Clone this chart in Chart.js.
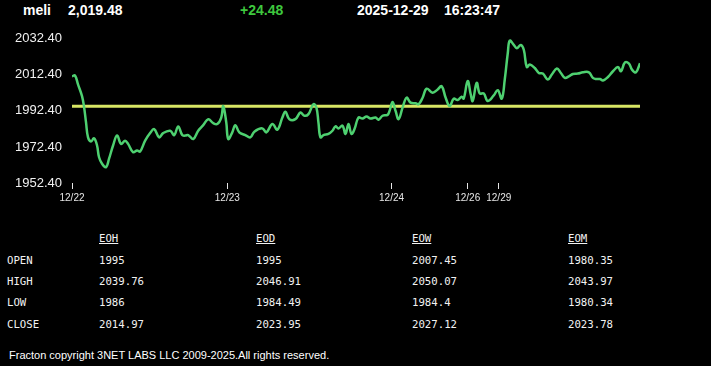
<!DOCTYPE html>
<html>
<head>
<meta charset="utf-8">
<script src="https://cdn.jsdelivr.net/npm/chart.js@4.4.1/dist/chart.umd.min.js"></script>
<style>
  body { margin: 0; background: #000; width: 711px; height: 366px; overflow: hidden; position: relative; }
  .hd { position: absolute; top: 2px; font: bold 14px "Liberation Sans", Arial, sans-serif; color: #fff; line-height: 17px; z-index: 2; }
  #chg { color: #3ec83e; }
  #chart { position: absolute; left: 0; top: 21px; }
  .cell { position: absolute; font: 10.7px "DejaVu Sans Mono", "Liberation Mono", monospace; color: #f2f2f2; line-height: 13px; }
  .colhead { text-decoration: underline; }
  #foot { position: absolute; left: 9px; top: 349px; font: 11px "Liberation Sans", Arial, sans-serif; color: #fff; }
</style>
</head>
<body>
<div class="hd" style="left:23px">meli</div>
<div class="hd" id="last" style="left:68px"></div>
<div class="hd" id="chg" style="left:240px"></div>
<div class="hd" id="date" style="left:357px"></div>
<div class="hd" id="time" style="left:444px"></div>
<canvas id="chart" width="711" height="187"></canvas>
<div id="table"></div>
<div id="foot">Fracton copyright 3NET LABS LLC 2009-2025.All rights reserved.</div>

<script>
// header values
const lastPrice = "2,019.48";
const change = "+24.48";
const quoteDate = "2025-12-29";
const quoteTime = "16:23:47";

// intraday series (bar position, price)
const times = [
  0, 3, 6, 10, 12, 14, 16, 19, 22, 25, 27, 30, 34, 37, 41, 45, 49, 53, 56, 61,
  65, 68, 73, 78, 82, 87, 91, 98, 102, 106, 110, 113, 116, 121, 126, 131, 136, 141, 145, 149,
  151, 154, 156, 160, 163, 167, 173, 178, 182, 190, 194, 200, 205, 210, 213, 217, 223, 228, 232, 236,
  241, 244, 246, 248, 251, 256, 260, 263, 266, 270, 273, 276, 279, 282, 286, 290, 294, 298, 303, 306,
  310, 315, 317, 320, 323, 326, 330, 334, 338, 343, 346, 350, 354, 360, 365, 369, 373, 377, 381, 385,
  389, 391, 395, 398, 400, 404, 407, 411, 415, 421, 425, 429, 432, 435, 437, 441, 444, 448, 451, 454,
  457, 462, 466, 470, 475, 479, 484, 488, 492, 496, 500, 505, 510, 516, 520, 523, 527, 530, 535, 540,
  545, 548, 552, 556, 559, 563, 567
];
const prices = [
  2011.6, 2012.0, 2007.1, 2000.6, 1994.8, 1986.0, 1977.7, 1975.4, 1977.2, 1973.2,
  1966.7, 1963.1, 1961.2, 1965.9, 1973.2, 1978.7, 1974.1, 1975.9, 1974.1, 1969.5,
  1970.4, 1969.9, 1975.9, 1980.1, 1982.3, 1977.7, 1980.1, 1981.4, 1979.0, 1983.8,
  1979.0, 1978.7, 1979.0, 1976.8, 1981.4, 1984.5, 1987.8, 1985.6, 1985.1, 1988.7,
  1995.1, 1986.0, 1976.8, 1980.5, 1984.5, 1980.5, 1979.0, 1977.7, 1980.9, 1982.7,
  1980.5, 1985.1, 1982.0, 1988.7, 1991.9, 1987.8, 1987.8, 1991.5, 1989.7, 1990.6,
  1996.1, 1994.2, 1986.0, 1977.7, 1979.0, 1979.6, 1981.4, 1983.8, 1982.7, 1984.2,
  1979.6, 1985.1, 1979.6, 1982.3, 1988.7, 1988.2, 1989.3, 1988.2, 1988.7, 1987.5,
  1989.7, 1990.2, 1992.4, 1997.3, 1992.4, 1987.8, 1994.2, 1999.7, 1997.0, 1996.6,
  1996.1, 1999.7, 2004.7, 2002.5, 2004.3, 2006.1, 1999.7, 1995.1, 1999.2, 1998.4,
  2000.3, 1999.2, 2008.9, 2001.6, 1997.9, 2008.0, 2002.1, 2002.1, 1997.9, 2001.0,
  2003.9, 1999.2, 2009.8, 2024.4, 2031.4, 2029.0, 2027.2, 2029.0, 2026.3, 2016.7,
  2018.1, 2016.2, 2013.4, 2013.1, 2009.8, 2012.6, 2015.9, 2013.4, 2010.7, 2011.6,
  2012.9, 2013.1, 2013.8, 2013.8, 2010.7, 2010.1, 2010.1, 2009.3, 2011.2, 2014.4,
  2016.7, 2014.4, 2019.3, 2018.6, 2015.3, 2013.8, 2018.9
];
const openPrice = 1995;

// x axis day marks
const dayLabels = ["12/22", "12/23", "12/24", "12/26", "12/29"];
const dayStarts = [0, 155, 319, 395, 426];

// y axis ticks
const yTicks = [1952.4, 1972.4, 1992.4, 2012.4, 2032.4];

// summary table
const rowNames = ["OPEN", "HIGH", "LOW", "CLOSE"];
const colNames = ["EOH", "EOD", "EOW", "EOM"];
const eoh = ["1995", "2039.76", "1986", "2014.97"];
const eod = ["1995", "2046.91", "1984.49", "2023.95"];
const eow = ["2007.45", "2050.07", "1984.4", "2027.12"];
const eom = ["1980.35", "2043.97", "1980.34", "2023.78"];

document.getElementById("last").textContent = lastPrice;
document.getElementById("chg").textContent = change;
document.getElementById("date").textContent = quoteDate;
document.getElementById("time").textContent = quoteTime;

// build table
const table = document.getElementById("table");
const colX = [99, 256, 412, 568];
const rowY = [254, 275, 296, 318];
function addCell(text, x, y, cls) {
  const d = document.createElement("div");
  d.className = "cell" + (cls ? " " + cls : "");
  d.style.left = x + "px";
  d.style.top = y + "px";
  d.textContent = text;
  table.appendChild(d);
}
colNames.forEach((c, i) => addCell(c, colX[i], 232, "colhead"));
rowNames.forEach((r, j) => addCell(r, 7, rowY[j]));
[eoh, eod, eow, eom].forEach((col, i) => {
  col.forEach((v, j) => addCell(v, colX[i], rowY[j]));
});

const ctx = document.getElementById("chart").getContext("2d");
const last = times.length - 1;

new Chart(ctx, {
  type: "line",
  data: {
    datasets: [
      {
        data: times.map((t, i) => ({ x: t, y: prices[i] })),
        borderColor: "rgb(78, 208, 112)",
        borderWidth: 2.5,
        pointRadius: 0,
        tension: 0.4,
      },
      {
        data: [{ x: times[0], y: openPrice }, { x: times[last], y: openPrice }],
        borderColor: "rgb(216, 230, 100)",
        borderWidth: 3,
        pointRadius: 0,
      },
    ],
  },
  options: {
    responsive: false,
    animation: false,
    layout: { padding: { top: 5, right: 71, left: 0, bottom: 0 } },
    plugins: { legend: { display: false }, tooltip: { enabled: false } },
    scales: {
      x: {
        type: "linear",
        min: times[0],
        max: times[last],
        afterBuildTicks: (s) => { s.ticks = dayStarts.map((v) => ({ value: v })); },
        afterFit: (s) => { s.height = 25; },
        ticks: {
          autoSkip: false,
          maxRotation: 0,
          padding: 3,
          color: "#e6e6e6",
          font: { family: "Liberation Sans, Arial, sans-serif", size: 10 },
          callback: (v) => dayLabels[dayStarts.indexOf(v)],
        },
        grid: { drawOnChartArea: false, tickLength: 6, tickColor: "#e6e6e6", tickWidth: 1 },
        border: { display: false },
      },
      y: {
        min: yTicks[0],
        max: yTicks[yTicks.length - 1],
        afterBuildTicks: (s) => { s.ticks = yTicks.map((v) => ({ value: v })); },
        afterFit: (s) => { s.width = 72; },
        ticks: {
          padding: 10,
          color: "#f0f0f0",
          font: { family: "Liberation Sans, Arial, sans-serif", size: 13 },
          callback: (v) => v.toFixed(2),
        },
        grid: { display: false, drawTicks: false },
        border: { display: false },
      },
    },
  },
});
</script>
</body>
</html>
